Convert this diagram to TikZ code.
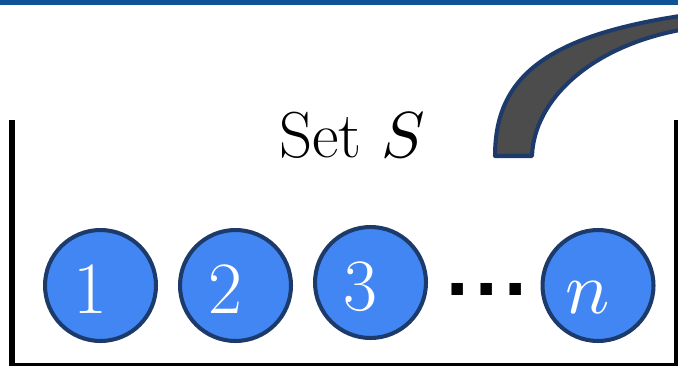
\documentclass[tikz,border=0pt]{standalone}
\usepackage{unicode-math}
\setmathfont{Latin Modern Math}
\newfontfamily\dotfont{Liberation Sans}
\usetikzlibrary{positioning}
\definecolor{barblue}{RGB}{15,82,150}
\definecolor{ballblue}{RGB}{66,134,244}
\definecolor{ballnavy}{RGB}{28,58,106}
\definecolor{handlegray}{RGB}{76,76,76}

\begin{document}
\begin{tikzpicture}[x=0.02cm, y=-0.02cm,
    ball/.style={circle, draw=ballnavy, line width=2.3pt, fill=ballblue, text=white,
                 minimum size=2.22cm, inner sep=0pt, text height=1.1cm, text depth=0cm,
                 font=\fontsize{42}{42}\selectfont, execute at end node={\hspace{0.4cm}}}]
    \clip (0,0) rectangle (678,365);
    % top bar
    \fill[barblue] (0,0) rectangle (678,4.5);
    % the set
    \draw[line width=2.85pt] (12,119.5) -- (12,365) -- (676.5,365) -- (676.5,119.5);
    \node[anchor=base, font=\fontsize{37}{37}\selectfont] (title) at (352,157) {Set $S$};
    \node[ball] (b1) at (100.5,285.5) {1};
    \node[ball] (b2) at (235.5,285.5) {2};
    \node[ball] (b3) at (370.5,282.5) {3};
    \node[anchor=base, font=\dotfont\bfseries\fontsize{46}{46}\selectfont] (dots) at (486.5,295)
        {.\hspace{0.13cm}.\hspace{0.13cm}.};
    \node[ball] (bn) at (598,285.5) {$n$};
    % handle
    \draw[ballnavy, line width=2.3pt, fill=handlegray, line join=round]
        (495,156) .. controls (495,80) and (542,37) .. (680,16) -- (680,30)
        .. controls (590,47) and (534,100) .. (532,156) -- cycle;
\end{tikzpicture}
\end{document}
